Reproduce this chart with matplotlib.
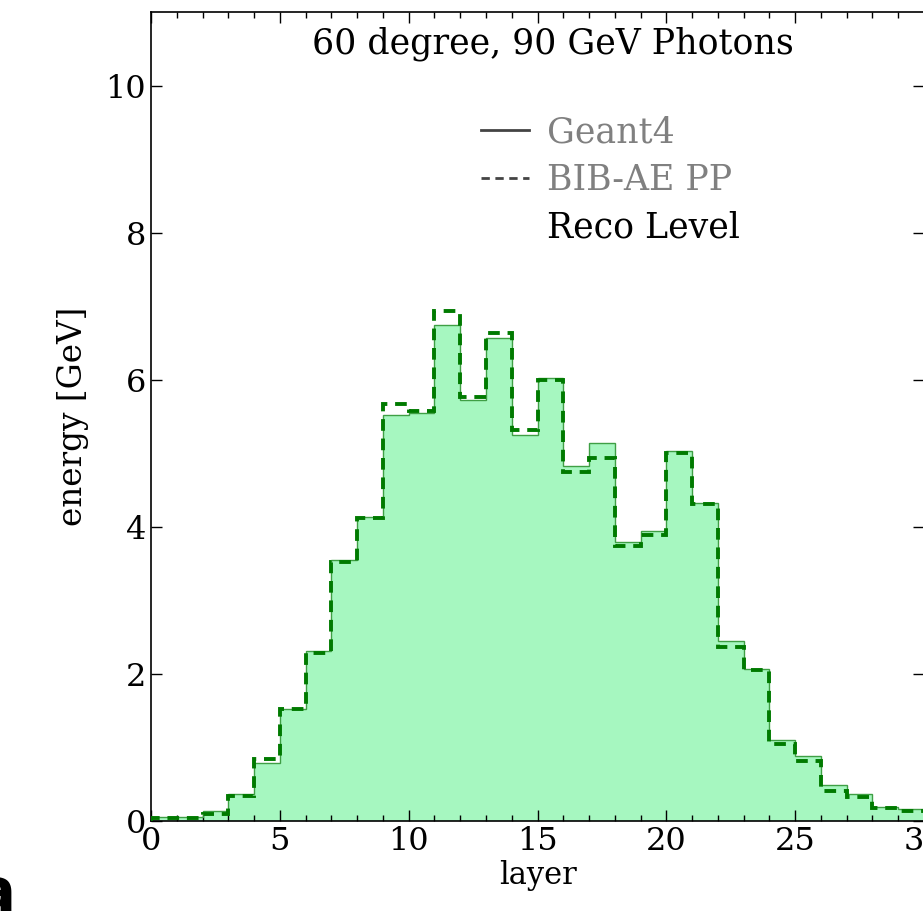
import numpy as np
import matplotlib
matplotlib.use("Agg")
import matplotlib.pyplot as plt
from matplotlib.lines import Line2D

# energy per layer
layers = np.arange(0, 31)
geant4 = [0.05, 0.05, 0.13, 0.37, 0.79, 1.52, 2.31, 3.55, 4.13, 5.52,
          5.55, 6.75, 5.72, 6.57, 5.25, 6.02, 4.83, 5.14, 3.79, 3.94,
          5.03, 4.32, 2.45, 2.06, 1.10, 0.88, 0.49, 0.37, 0.19, 0.16]
bibae = [0.04, 0.04, 0.10, 0.34, 0.84, 1.52, 2.29, 3.52, 4.12, 5.67,
         5.58, 6.94, 5.76, 6.63, 5.31, 6.00, 4.75, 4.94, 3.74, 3.89,
         5.01, 4.31, 2.36, 2.05, 1.05, 0.82, 0.41, 0.33, 0.18, 0.14]

plt.rcParams['font.family'] = 'DejaVu Serif'

fig = plt.figure(figsize=(9.23, 9.11), dpi=100)
ax = fig.add_axes([0.1636, 0.0988, 0.8375, 0.8880])

ax.stairs(geant4, layers, fill=True, color='#a6f7c0', zorder=1)
ax.stairs(geant4, layers, color='#3f9f45', lw=1.0, zorder=2)
ax.stairs(bibae, layers, color='#007a00', lw=2.8, ls=(0, (3, 2)), zorder=3)

ax.set_xlim(0, 30)
ax.set_ylim(0, 11)
ax.set_xticks([0, 5, 10, 15, 20, 25, 30])
ax.set_xticks(np.arange(0, 31, 1), minor=True)
ax.set_yticks([0, 2, 4, 6, 8, 10])
ax.tick_params(which='both', direction='in', top=True, right=True, labelsize=23)
ax.tick_params(which='major', length=8, width=1)
ax.tick_params(which='minor', length=4, width=1)
for s in ax.spines.values():
    s.set_linewidth(1.2)

ax.set_xlabel('layer', fontsize=22, labelpad=2)
ax.set_ylabel('energy [GeV]', fontsize=23.5, labelpad=12)

ax.text(15.6, 10.57, '60 degree, 90 GeV Photons', ha='center', va='center', fontsize=25)

handles = [Line2D([], [], color='#444444', lw=2),
           Line2D([], [], color='#444444', lw=2, ls=(0, (3, 2))),
           Line2D([], [], color='none')]
leg = ax.legend(handles, ['Geant4', 'BIB-AE PP', 'Reco Level'], loc='upper left',
                bbox_to_anchor=(0.404, 0.894), frameon=False, fontsize=25,
                handlelength=1.4, handletextpad=0.5, labelspacing=0.4, borderpad=0)
for t, c in zip(leg.get_texts(), ['#808080', '#808080', 'black']):
    t.set_color(c)

fig.text(0.017, 0.0, 'a', fontsize=44, fontweight='bold', family='DejaVu Sans',
         ha='right', va='baseline')

fig.savefig('out.png', dpi=100)
